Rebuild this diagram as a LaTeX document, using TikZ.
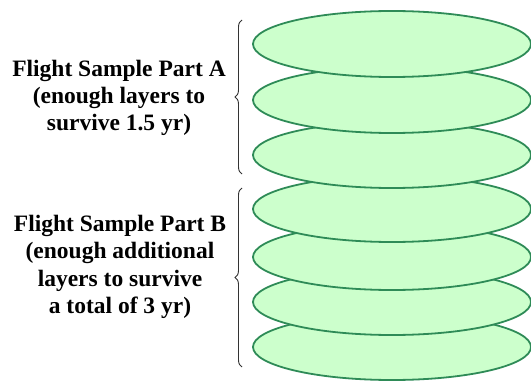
\documentclass[tikz,border=0pt]{standalone}
\usepackage{fontspec}
\setmainfont{LiberationSerif}[Extension=.ttf, UprightFont=*-Regular, BoldFont=*-Bold]
\usetikzlibrary{decorations.pathreplacing,positioning,shapes.geometric}

\definecolor{layerfill}{HTML}{CCFFCC}
\definecolor{layerdraw}{HTML}{2E8B57}

\begin{document}
\begin{tikzpicture}[
  x=1pt,
  y=1pt,
  layer/.style={draw=layerdraw, fill=layerfill, ellipse, line width=1.8pt, minimum width=278pt, minimum height=66pt, inner sep=0pt},
  partbrace/.style={draw=black!80, line width=0.9pt, decorate, decoration={brace, amplitude=7pt}},
  parttext/.style={align=center, font=\fontsize{23.5}{27.3}\selectfont\bfseries}
]
  \useasboundingbox (0,0) rectangle (531,381);

  % layers, bottom one first so upper ones lie on top
  \node[layer] (l7) at (392, 34) {};
  \node[layer] (l6) at (392, 79) {};
  \node[layer] (l5) at (392, 124) {};
  \node[layer] (l4) at (392, 172) {};
  \node[layer] (l3) at (392, 226) {};
  \node[layer] (l2) at (392, 281) {};
  \node[layer] (l1) at (392, 337) {};

  % braces
  \coordinate (atop) at (242, 361);
  \coordinate (abot) at (242, 207);
  \coordinate (btop) at (242, 193);
  \coordinate (bbot) at (242, 14);
  \draw[partbrace] (abot) -- (atop);
  \draw[partbrace] (bbot) -- (btop);

  \node[parttext] (parta) at (119, 283) {Flight Sample Part A\\(enough layers to\\survive 1.5 yr)};
  \node[parttext] (partb) at (120, 114) {Flight Sample Part B\\(enough additional\\layers to survive\\a total of 3 yr)};
\end{tikzpicture}
\end{document}
